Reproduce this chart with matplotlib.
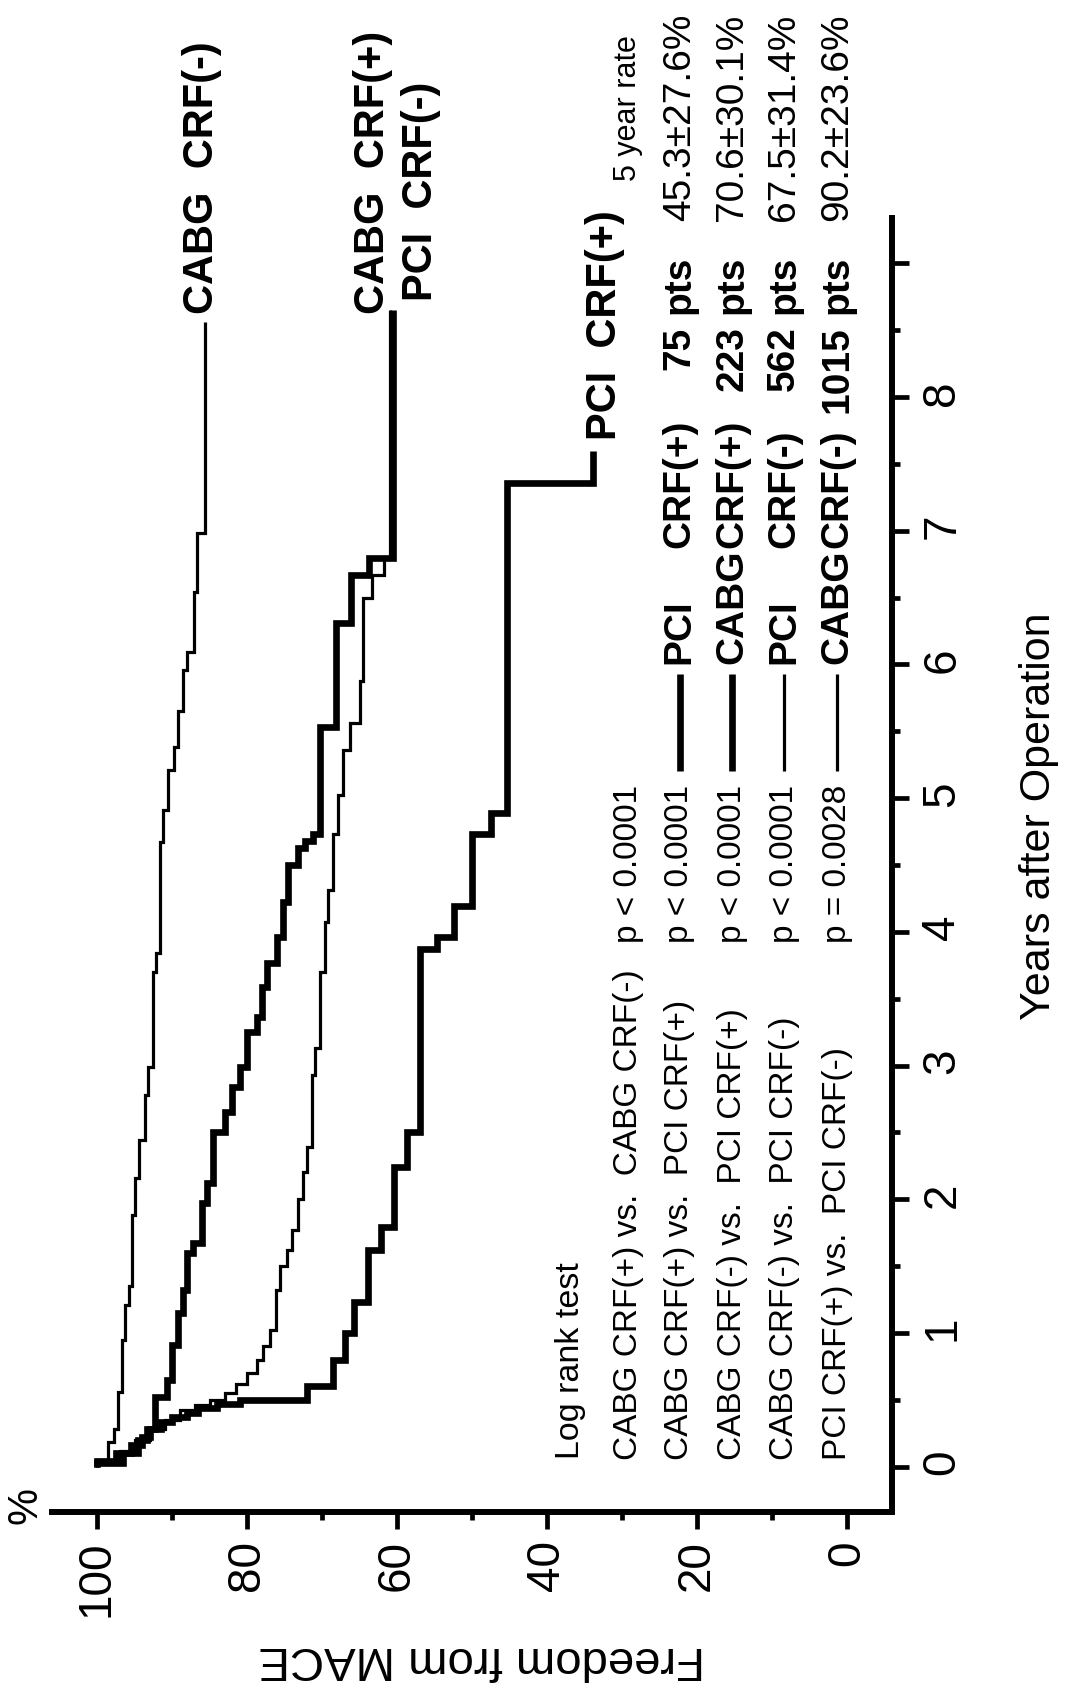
import matplotlib
matplotlib.use("Agg")
import matplotlib.pyplot as plt
from matplotlib.ticker import MultipleLocator

plt.rcParams['font.family'] = ['Liberation Sans', 'DejaVu Sans']

# ---------------- data (years after operation, freedom from MACE %) ----------------
cabg_neg_t = [0, 0.05, 0.18, 0.28, 0.56, 0.95, 1.21, 1.35, 1.88, 2.16, 2.44, 2.78, 2.99, 3.70,
              3.84, 4.67, 4.91, 5.21, 5.38, 5.65, 5.96, 6.09, 6.54, 6.98]
cabg_neg_f = [100, 98.5, 97.8, 97.2, 96.7, 96.3, 95.8, 95.4, 94.9, 94.4, 93.6, 93.2, 92.6, 92.1,
              91.6, 91.2, 90.5, 89.8, 89.2, 88.5, 88.0, 87.1, 86.7, 85.6]
cabg_neg_end = 8.56

cabg_pos_t = [0, 0.03, 0.10, 0.20, 0.28, 0.52, 0.65, 0.91, 1.15, 1.32, 1.60, 1.67, 1.97, 2.12,
              2.50, 2.65, 2.84, 2.99, 3.25, 3.36, 3.59, 3.77, 3.96, 4.22, 4.50, 4.63, 4.68, 4.73,
              5.53, 6.31, 6.67, 6.80]
cabg_pos_f = [100, 96.5, 94.5, 93.4, 92.3, 90.7, 90.0, 89.2, 88.5, 88.0, 87.2, 86.0, 85.3, 84.5,
              82.9, 82.0, 80.9, 80.0, 78.7, 78.0, 77.3, 76.0, 75.2, 74.5, 73.2, 72.3, 71.2, 70.3,
              68.1, 66.1, 63.7, 60.5]
cabg_pos_end = 8.65

pci_neg_t = [0, 0.05, 0.12, 0.20, 0.28, 0.35, 0.42, 0.46, 0.50, 0.55, 0.62, 0.70, 0.80, 0.90,
             1.02, 1.32, 1.50, 1.62, 1.77, 2.00, 2.20, 2.39, 2.93, 3.13, 3.70, 4.07, 4.31, 4.73,
             5.02, 5.36, 5.56, 5.88, 6.50, 6.67, 6.80]
pci_neg_f = [100, 97, 95, 93, 91, 89, 87, 85, 83, 81.5, 80, 78.7, 77.9, 76.9,
             76.2, 75.6, 74.7, 74.0, 73.2, 72.5, 72.0, 71.3, 70.9, 70.3, 69.6, 69.2, 68.5, 67.9,
             67.2, 66.3, 64.9, 64.5, 63.3, 61.7, 61.0]
pci_neg_end = 8.65

pci_pos_t = [0, 0.04, 0.10, 0.16, 0.22, 0.28, 0.33, 0.37, 0.40, 0.44, 0.47, 0.50, 0.60, 0.80,
             1.00, 1.23, 1.62, 1.79, 2.24, 2.50, 3.87, 3.96, 4.19, 4.73, 4.89, 7.36]
pci_pos_f = [100, 97.5, 95.5, 94, 93, 91.5, 90, 88, 86.5, 84, 81, 72, 68.5, 67.0,
             65.8, 63.9, 62.1, 60.4, 58.7, 56.9, 54.7, 52.4, 50.0, 47.5, 45.3, 33.9]
pci_pos_end = 7.60

freedom_ticks = [0, 20, 40, 60, 80, 100]
year_ticks = [0, 1, 2, 3, 4, 5, 6, 7, 8, 9]
year_tick_labels = ['0', '1', '2', '3', '4', '5', '6', '7', '8', '']

logrank_pairs = ["CABG CRF(+) vs.  CABG CRF(-)", "CABG CRF(+) vs.  PCI CRF(+)",
                 "CABG CRF(-) vs.  PCI CRF(+)", "CABG CRF(-) vs.  PCI CRF(-)",
                 "PCI CRF(+) vs.  PCI CRF(-)"]
logrank_p = ["p < 0.0001", "p < 0.0001", "p < 0.0001", "p < 0.0001", "p = 0.0028"]

legend_names = ["PCI", "CABG", "PCI", "CABG"]
legend_crf = ["CRF(+)", "CRF(+)", "CRF(-)", "CRF(-)"]
legend_counts = ["75", "223", "562", "1015"]
legend_rates = ["45.3\u00b127.6%", "70.6\u00b130.1%", "67.5\u00b131.4%", "90.2\u00b123.6%"]


def step_path(t, f, t_end):
    xs, ys = [], []
    for i in range(len(t)):
        t1 = t[i + 1] if i + 1 < len(t) else t_end
        xs += [f[i], f[i]]
        ys += [t[i], t1]
    return xs, ys


W, H = 1070, 1692
fig = plt.figure(figsize=(W / 100, H / 100), dpi=100)
L, R, T, B = 52, 892, 218, 1512
ax = fig.add_axes([L / W, (H - B) / H, (R - L) / W, (B - T) / H])
ax.set_xlim(106, -6)
ax.set_ylim(-0.34, 9.34)

THICK, THIN = 4.8, 2.3
series = [
    (cabg_neg_t, cabg_neg_f, cabg_neg_end, THIN),
    (pci_neg_t, pci_neg_f, pci_neg_end, THIN),
    (cabg_pos_t, cabg_pos_f, cabg_pos_end, THICK),
    (pci_pos_t, pci_pos_f, pci_pos_end, THICK),
]
for t, f, te, lw in series:
    xs, ys = step_path(t, f, te)
    ax.plot(xs, ys, color='black', lw=lw, solid_joinstyle='miter', solid_capstyle='butt')

# spines / ticks
for s in ['top', 'left']:
    ax.spines[s].set_visible(False)
for s in ['bottom', 'right']:
    ax.spines[s].set_linewidth(4.3)
ax.yaxis.set_ticks_position('right')
ax.set_xticks(freedom_ticks)
ax.set_xticklabels([str(v) for v in freedom_ticks])
ax.xaxis.set_minor_locator(MultipleLocator(10))
ax.set_yticks(year_ticks)
ax.set_yticklabels(year_tick_labels)
ax.yaxis.set_minor_locator(MultipleLocator(0.5))
ax.tick_params(which='major', direction='out', length=12.5, width=3.4, labelsize=33, pad=8)
ax.tick_params(which='minor', direction='out', length=6, width=3.4)
ax.tick_params(axis='x', labelrotation=90)
ax.tick_params(axis='y', labelrotation=90)

# axis titles
fig.text(482 / W, (H - 1659) / H, "Freedom from MACE", rotation=180, ha='center', va='center',
         fontsize=34)
fig.text(1050 / W, (H - 816) / H, "Years after Operation", rotation=90, rotation_mode='anchor',
         ha='center', va='baseline', fontsize=31)
fig.text(25 / W, (H - 1505) / H, "%", rotation=90, ha='center', va='center', fontsize=30)

txt = dict(rotation=90, rotation_mode='anchor', va='center', color='black')

# curve end labels
ax.text(86.0, 8.62, "CABG  CRF(-)", fontsize=30, fontweight='bold', ha='left', **txt)
ax.text(63.2, 8.62, "CABG  CRF(+)", fontsize=30, fontweight='bold', ha='left', **txt)
ax.text(56.8, 8.72, "PCI  CRF(-)", fontsize=30, fontweight='bold', ha='left', **txt)
ax.text(32.3, 7.68, "PCI  CRF(+)", fontsize=30, fontweight='bold', ha='left', **txt)

# log rank block
ax.text(36.8, 0.06, "Log rank test", fontsize=24.5, ha='left', **txt)
row_f = [29.2, 22.3, 15.3, 8.4, 1.3]
for i in range(5):
    ax.text(row_f[i], 0.05, logrank_pairs[i], fontsize=24, ha='left', **txt)
    ax.text(row_f[i], 3.92, logrank_p[i], fontsize=24, ha='left', **txt)

ax.text(row_f[0], 9.62, "5 year rate", fontsize=22, ha='left', **txt)
lws = [THICK, THICK, THIN, THIN]
for k in range(4):
    fr = row_f[k + 1]
    ax.plot([fr, fr], [5.20, 5.93], color='black', lw=lws[k], solid_capstyle='butt')
    ax.text(fr, 6.0, legend_names[k], fontsize=28, fontweight='bold', ha='left', **txt)
    ax.text(fr, 6.87, legend_crf[k], fontsize=28, fontweight='bold', ha='left', **txt)
    ax.text(fr, 8.53, legend_counts[k], fontsize=28, fontweight='bold', ha='right', **txt)
    ax.text(fr, 8.62, "pts", fontsize=28, fontweight='bold', ha='left', **txt)
    ax.text(fr, 9.32, legend_rates[k], fontsize=28, ha='left', **txt)

fig.savefig("out.png", dpi=100, facecolor='white')
